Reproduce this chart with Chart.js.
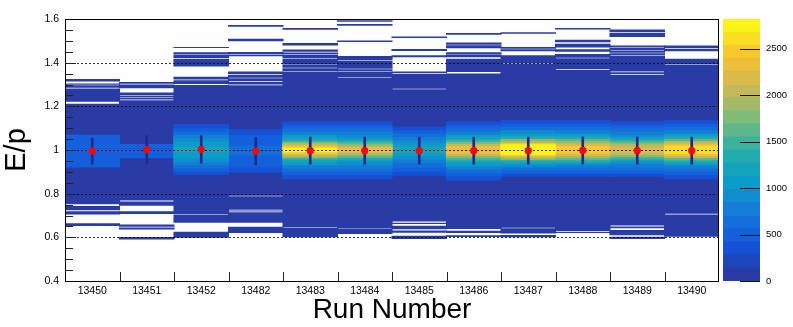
<!DOCTYPE html>
<html>
<head>
<meta charset="utf-8">
<script src="https://cdn.jsdelivr.net/npm/chart.js@4.4.1/dist/chart.umd.min.js"></script>
<style>
  html, body { margin: 0; padding: 0; background: #fff; }
  #wrap { position: relative; width: 793px; height: 327px; }
  #main { position: absolute; left: 0; top: 0; }
  #zbar { position: absolute; left: 700px; top: 0; }
</style>
</head>
<body>
<div id="wrap">
  <canvas id="main" width="793" height="327"></canvas>
  <canvas id="zbar" width="93" height="327"></canvas>
</div>
<script>
"use strict";

// run numbers on the x axis
const runs = ['13450', '13451', '13452', '13482', '13483', '13484',
              '13485', '13486', '13487', '13488', '13489', '13490'];

// profile mean and error per run (red points)
const means  = [0.995, 1.002, 1.002, 0.995, 0.997, 0.997, 0.997, 0.997, 0.997, 0.998, 0.997, 0.997];
const errors = [0.060, 0.064, 0.063, 0.063, 0.062, 0.062, 0.062, 0.062, 0.062, 0.062, 0.062, 0.062];

// filled E/p range of each run (lowest-count entries)
const spanLo = [0.652, 0.590, 0.598, 0.620, 0.600, 0.615, 0.592, 0.602, 0.600, 0.620, 0.592, 0.603];
const spanHi = [1.325, 1.312, 1.472, 1.573, 1.559, 1.594, 1.520, 1.536, 1.539, 1.559, 1.552, 1.479];

// empty E/p intervals inside each run's range
const gaps = [
  [[1.305, 1.314], [1.296, 1.299], [1.282, 1.285], [1.212, 1.221], [0.744, 0.752], [0.720, 0.724], [0.665, 0.705]],
  [[1.300, 1.304], [1.263, 1.283], [1.248, 1.251], [1.238, 1.241], [1.228, 1.231], [0.764, 0.769], [0.719, 0.745], [0.659, 0.707], [0.645, 0.648], [0.602, 0.636]],
  [[1.448, 1.467], [1.437, 1.440], [1.418, 1.421], [1.335, 1.383], [1.320, 1.323], [1.298, 1.302], [0.702, 0.705], [0.626, 0.667]],
  [[1.510, 1.565], [1.449, 1.498], [1.436, 1.439], [1.360, 1.429], [1.345, 1.348], [1.329, 1.331], [1.312, 1.315], [1.297, 1.300], [0.788, 0.791], [0.723, 0.726], [0.715, 0.718], [0.648, 0.667]],
  [[1.490, 1.551], [1.460, 1.479], [1.452, 1.454], [1.444, 1.446], [1.436, 1.438], [1.418, 1.420], [1.390, 1.392], [1.375, 1.377], [1.360, 1.362], [0.645, 0.647]],
  [[1.577, 1.587], [1.502, 1.569], [1.431, 1.495], [1.409, 1.411], [1.370, 1.372], [1.360, 1.362], [1.330, 1.332], [0.640, 0.642]],
  [[1.463, 1.513], [1.434, 1.453], [1.360, 1.425], [1.348, 1.351], [1.278, 1.281], [0.667, 0.672], [0.653, 0.661], [0.631, 0.637], [0.607, 0.621]],
  [[1.495, 1.528], [1.490, 1.492], [1.480, 1.482], [1.448, 1.466], [1.437, 1.439], [1.418, 1.425], [1.350, 1.357], [0.630, 0.638], [0.610, 0.620]],
  [[1.472, 1.532], [1.462, 1.464], [1.434, 1.452], [1.396, 1.399], [0.642, 0.644], [0.611, 0.618]],
  [[1.505, 1.552], [1.487, 1.494], [1.461, 1.470], [1.440, 1.450], [1.420, 1.423], [1.368, 1.371], [0.625, 0.628]],
  [[1.536, 1.539], [1.479, 1.517], [1.467, 1.469], [1.454, 1.456], [1.443, 1.445], [1.432, 1.434], [1.356, 1.359], [1.344, 1.347], [0.650, 0.654], [0.634, 0.642], [0.603, 0.610]],
  [[1.463, 1.466], [1.418, 1.452], [1.389, 1.392], [0.705, 0.708]]
];

// counts in the low tails
const tailCount = 60;

// core of each run: nested bands [lo, hi, count]
const cores = [
  [[0.920, 1.070, 480]],
  [[0.962, 1.028, 480]],
  [[0.886, 1.119, 330], [0.900, 1.100, 450], [0.915, 1.085, 580], [0.930, 1.070, 720], [0.945, 1.055, 870], [0.960, 1.040, 1000], [0.975, 1.025, 1120], [0.990, 1.010, 1200]],
  [[0.896, 1.095, 330], [0.920, 1.070, 440], [0.950, 1.045, 540], [0.975, 1.020, 610]],
  [[0.867, 1.130, 330], [0.885, 1.115, 480], [0.900, 1.100, 640], [0.915, 1.085, 800], [0.930, 1.070, 1000], [0.945, 1.055, 1250], [0.955, 1.045, 1550], [0.965, 1.035, 1850], [0.975, 1.025, 2200], [0.983, 1.017, 2500], [0.990, 1.010, 2750]],
  [[0.867, 1.130, 300], [0.885, 1.115, 430], [0.900, 1.100, 580], [0.915, 1.085, 720], [0.930, 1.070, 900], [0.945, 1.055, 1120], [0.955, 1.045, 1380], [0.965, 1.035, 1650], [0.975, 1.025, 1950], [0.985, 1.015, 2200], [0.992, 1.008, 2320]],
  [[0.882, 1.107, 330], [0.900, 1.090, 450], [0.920, 1.075, 600], [0.940, 1.060, 780], [0.955, 1.045, 950], [0.970, 1.030, 1100], [0.985, 1.015, 1220]],
  [[0.860, 1.130, 320], [0.880, 1.115, 460], [0.895, 1.100, 620], [0.910, 1.085, 800], [0.925, 1.070, 1000], [0.940, 1.058, 1250], [0.952, 1.047, 1520], [0.962, 1.037, 1800], [0.972, 1.027, 2100], [0.982, 1.018, 2350]],
  [[0.877, 1.137, 330], [0.890, 1.120, 480], [0.905, 1.105, 650], [0.920, 1.090, 850], [0.932, 1.075, 1100], [0.943, 1.062, 1400], [0.953, 1.050, 1750], [0.962, 1.040, 2100], [0.970, 1.032, 2450], [0.977, 1.026, 2700], [0.985, 1.016, 2820]],
  [[0.877, 1.137, 330], [0.890, 1.120, 470], [0.905, 1.105, 630], [0.920, 1.090, 820], [0.932, 1.075, 1050], [0.943, 1.062, 1320], [0.953, 1.050, 1620], [0.963, 1.040, 1950], [0.973, 1.030, 2250], [0.983, 1.018, 2480]],
  [[0.877, 1.130, 320], [0.890, 1.115, 450], [0.905, 1.100, 600], [0.920, 1.085, 780], [0.935, 1.070, 980], [0.947, 1.057, 1230], [0.957, 1.046, 1500], [0.967, 1.036, 1800], [0.977, 1.025, 2050], [0.987, 1.014, 2250]],
  [[0.867, 1.137, 330], [0.885, 1.120, 480], [0.900, 1.105, 650], [0.915, 1.090, 840], [0.930, 1.075, 1070], [0.943, 1.062, 1350], [0.953, 1.050, 1680], [0.963, 1.040, 2000], [0.972, 1.030, 2300], [0.982, 1.020, 2550], [0.990, 1.010, 2650]]
];

// axis ticks
const yTicks = [0.4, 0.6, 0.8, 1.0, 1.2, 1.4, 1.6];
const gridLines = [0.6, 0.8, 1.0, 1.2, 1.4];
const zMax = 2820;
const zLevels = 20;
const zTicks = [0, 500, 1000, 1500, 2000, 2500];

// palette (bird-like)
const palStops = [0, 0.125, 0.25, 0.375, 0.5, 0.625, 0.75, 0.875, 1];
const palR = [41, 18, 20, 12, 40, 125, 205, 248, 250];
const palG = [60, 85, 122, 158, 175, 188, 183, 192, 245];
const palB = [165, 222, 215, 200, 168, 122, 85, 48, 22];

const FONT = "'Liberation Sans', Arial, Helvetica, sans-serif";

function levelColor(level) {
  const t = level / (zLevels - 1);
  let k = 0;
  while (k < palStops.length - 2 && t > palStops[k + 1]) k++;
  const f = (t - palStops[k]) / (palStops[k + 1] - palStops[k]);
  const c = (a) => Math.round(a[k] + (a[k + 1] - a[k]) * f);
  return 'rgb(' + c(palR) + ',' + c(palG) + ',' + c(palB) + ')';
}

function colorFor(count) {
  const step = zMax / zLevels;
  return levelColor(Math.min(zLevels - 1, Math.floor(count / step)));
}

function filledPieces(i) {
  const g = gaps[i].slice().sort((a, b) => a[0] - b[0]);
  const out = [];
  let lo = spanLo[i];
  for (const [a, b] of g) {
    if (a > lo) out.push([lo, a]);
    lo = Math.max(lo, b);
  }
  if (spanHi[i] > lo) out.push([lo, spanHi[i]]);
  return out;
}

// cells overlap their neighbours a hair so no seams show between runs
const cellBase = {
  type: 'bar',
  grouped: false,
  barPercentage: 1.02,
  categoryPercentage: 1,
  borderWidth: 0,
  inflateAmount: 0,
};

const datasets = [];

const pieces = runs.map((_, i) => filledPieces(i));
const nPieces = Math.max(...pieces.map(p => p.length));
for (let j = 0; j < nPieces; j++) {
  datasets.push(Object.assign({}, cellBase, {
    data: pieces.map(p => p[j] || null),
    backgroundColor: colorFor(tailCount),
    order: 200,
  }));
}

const nBands = Math.max(...cores.map(c => c.length));
for (let k = 0; k < nBands; k++) {
  datasets.push(Object.assign({}, cellBase, {
    data: cores.map(c => c[k] ? [c[k][0], c[k][1]] : null),
    backgroundColor: cores.map(c => c[k] ? colorFor(c[k][2]) : 'rgba(0,0,0,0)'),
    order: 100 - k,
  }));
}

const errIndex = datasets.length;
datasets.push({
  type: 'bar',
  grouped: false,
  data: means.map((m, i) => [m - errors[i], m + errors[i]]),
  backgroundColor: '#1f2a8c',
  barThickness: 2,
  borderWidth: 0,
  order: 1,
});

datasets.push({
  type: 'line',
  data: means,
  showLine: false,
  pointRadius: 3.6,
  pointBackgroundColor: '#ff0000',
  pointBorderWidth: 0,
  order: 0,
});

const frameDecor = {
  id: 'frameDecor',
  beforeDatasetDraw(chart, args) {
    if (args.index !== errIndex) return;
    const { ctx, chartArea: a } = chart;
    const y = chart.scales.y;
    ctx.save();
    ctx.strokeStyle = 'rgba(0,0,0,0.8)';
    ctx.lineWidth = 1;
    ctx.setLineDash([2, 2]);
    for (const v of gridLines) {
      const py = Math.round(y.getPixelForValue(v)) + 0.5;
      ctx.beginPath();
      ctx.moveTo(a.left, py);
      ctx.lineTo(a.right, py);
      ctx.stroke();
    }
    ctx.restore();
  },
  afterDraw(chart) {
    const { ctx, chartArea: a } = chart;
    const x = chart.scales.x;
    const y = chart.scales.y;
    ctx.save();
    ctx.strokeStyle = '#222';
    ctx.lineWidth = 1;
    // y ticks, major every 0.2, minor every 0.05
    for (let k = 0; k <= 24; k++) {
      const v = 0.4 + k * 0.05;
      const py = Math.round(y.getPixelForValue(v)) + 0.5;
      const len = k % 4 === 0 ? 11 : 8;
      ctx.beginPath();
      ctx.moveTo(a.left, py);
      ctx.lineTo(a.left + len, py);
      ctx.stroke();
    }
    // x ticks at run boundaries
    for (let i = 1; i < runs.length; i++) {
      const px = Math.round(x.getPixelForValue(i - 0.5)) + 0.5;
      ctx.beginPath();
      ctx.moveTo(px, a.bottom);
      ctx.lineTo(px, a.bottom - 9);
      ctx.stroke();
    }
    ctx.strokeStyle = '#000';
    ctx.strokeRect(Math.round(a.left) + 0.5, Math.round(a.top) + 0.5,
                   Math.round(a.right - a.left) - 1, Math.round(a.bottom - a.top));
    ctx.restore();
  }
};

new Chart(document.getElementById('main'), {
  type: 'bar',
  data: { labels: runs, datasets: datasets },
  options: {
    responsive: false,
    animation: false,
    devicePixelRatio: 1,
    layout: { padding: { top: 19, right: 74, left: 0, bottom: 0 } },
    plugins: { legend: { display: false }, tooltip: { enabled: false } },
    scales: {
      x: {
        grid: { display: false, drawTicks: false },
        border: { display: false },
        ticks: { autoSkip: false, maxRotation: 0, padding: 4, color: '#000', font: { family: FONT, size: 10.5 } },
        title: { display: true, text: 'Run Number', color: '#000', padding: 0, font: { family: FONT, size: 28 } },
        afterFit(scale) { scale.height = 46; },
      },
      y: {
        min: 0.4,
        max: 1.6,
        afterBuildTicks(scale) { scale.ticks = yTicks.map(v => ({ value: v })); },
        grid: { display: false, drawTicks: false },
        border: { display: false },
        ticks: {
          padding: 6,
          color: '#000',
          font: { family: FONT, size: 10.5 },
          callback: v => String(+v.toFixed(2)),
        },
        title: { display: true, text: 'E/p', color: '#000', padding: 0, font: { family: FONT, size: 29 } },
        afterFit(scale) { scale.width = 65; },
      }
    }
  },
  plugins: [frameDecor]
});

// colour scale on the right
const zDatasets = [];
for (let i = 0; i < zLevels; i++) {
  zDatasets.push({
    data: [[i * zMax / zLevels, (i + 1) * zMax / zLevels]],
    backgroundColor: levelColor(i),
    grouped: false,
    barPercentage: 1,
    categoryPercentage: 1,
    borderWidth: 0,
  });
}

const zTickMarks = {
  id: 'zTickMarks',
  afterDraw(chart) {
    const { ctx, chartArea: a } = chart;
    const y = chart.scales.y;
    ctx.save();
    ctx.strokeStyle = '#111';
    ctx.lineWidth = 1;
    for (const v of zTicks) {
      const py = Math.round(y.getPixelForValue(v)) + 0.5;
      ctx.beginPath();
      ctx.moveTo(a.right - 20, py);
      ctx.lineTo(a.right, py);
      ctx.stroke();
    }
    ctx.restore();
  }
};

new Chart(document.getElementById('zbar'), {
  type: 'bar',
  data: { labels: ['z'], datasets: zDatasets },
  options: {
    responsive: false,
    animation: false,
    devicePixelRatio: 1,
    layout: { padding: { top: 19, left: 23, right: 0, bottom: 46 } },
    plugins: { legend: { display: false }, tooltip: { enabled: false } },
    scales: {
      x: { display: false },
      y: {
        position: 'right',
        min: 0,
        max: zMax,
        afterBuildTicks(scale) { scale.ticks = zTicks.map(v => ({ value: v })); },
        grid: { display: false, drawTicks: false },
        border: { display: false },
        ticks: { padding: 6, color: '#000', font: { family: FONT, size: 9.5 }, callback: v => String(v) },
        afterFit(scale) { scale.width = 33; },
      }
    }
  },
  plugins: [zTickMarks]
});
</script>
</body>
</html>
